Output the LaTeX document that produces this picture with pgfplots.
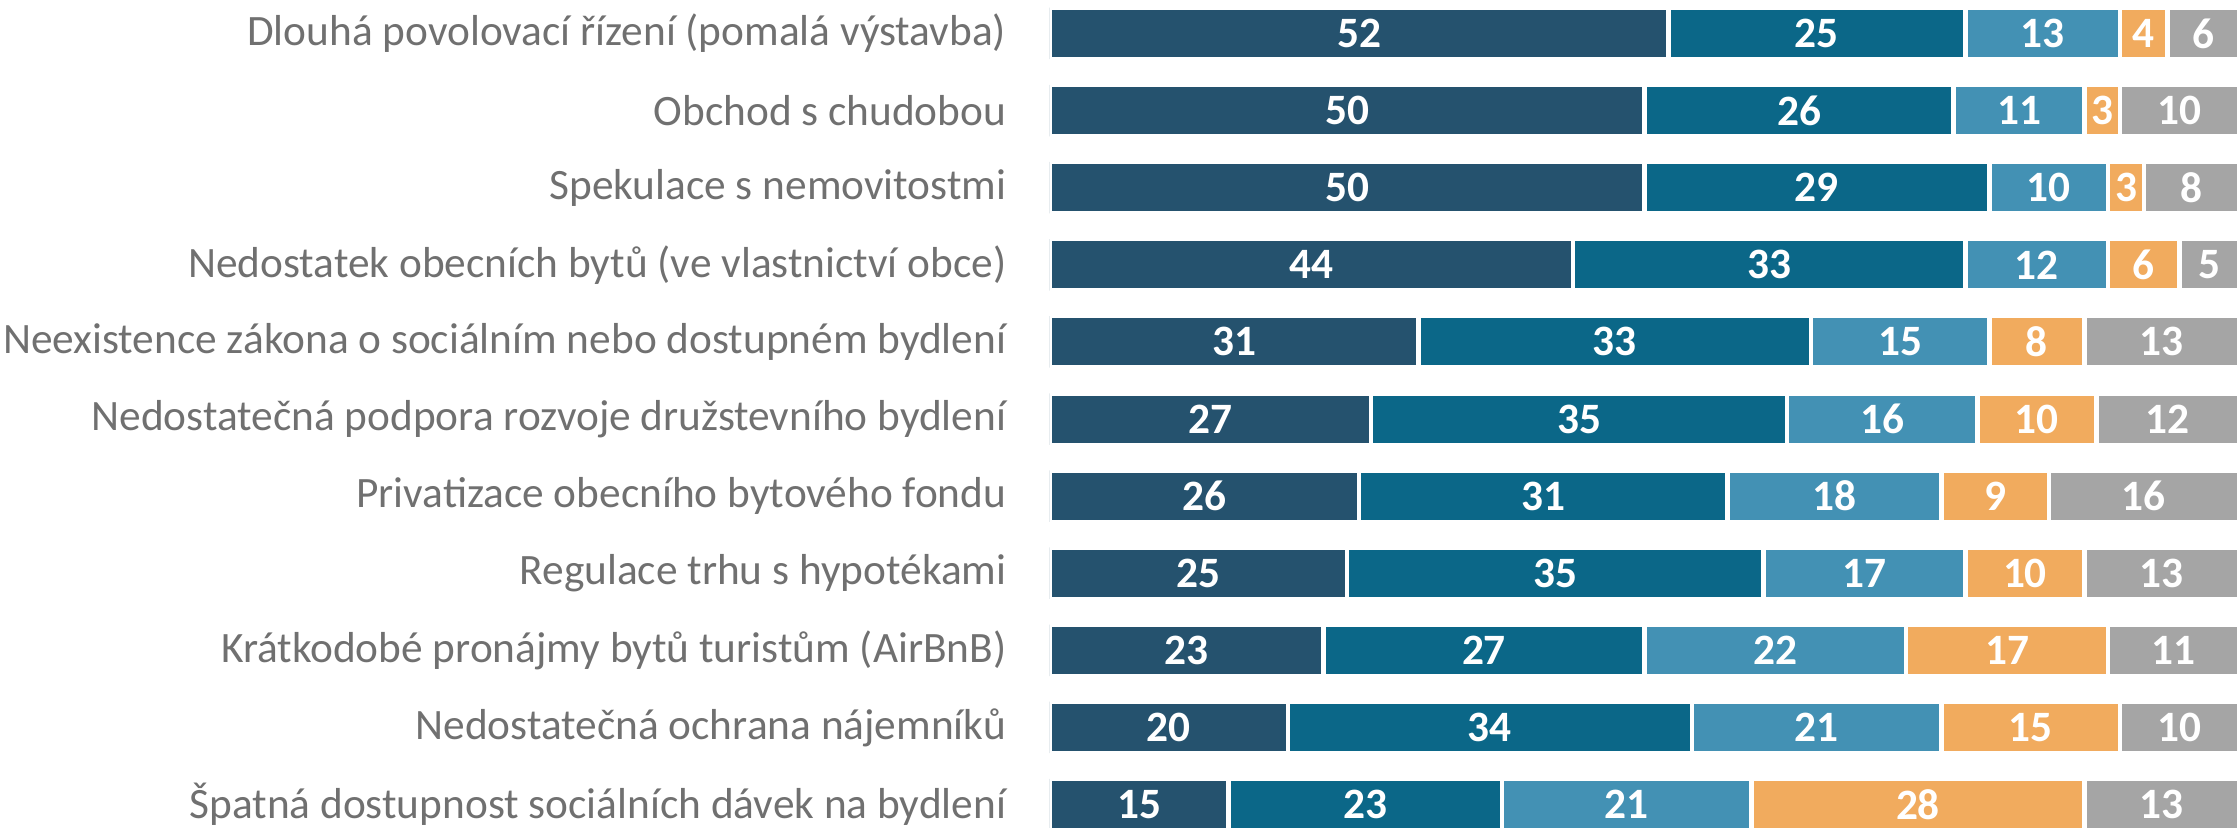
\documentclass[border=0pt]{standalone}
\usepackage{pgfplots}
\pgfplotsset{compat=1.18}
\usepackage{pgfplotstable}
\usepackage{fontspec}
\setmainfont{Carlito}
\definecolor{c1}{HTML}{25526E}
\definecolor{c2}{HTML}{0B6788}
\definecolor{c3}{HTML}{4391B4}
\definecolor{c4}{HTML}{F1AB5E}
\definecolor{c5}{HTML}{A5A5A5}
\definecolor{lab}{HTML}{707070}
\pgfplotstableread{
y a b c d e
0 52 25 13 4 6
1 50 26 11 3 10
2 50 29 10 3 8
3 44 33 12 6 5
4 31 33 15 8 13
5 27 35 16 10 12
6 26 31 18 9 16
7 25 35 17 10 13
8 23 27 22 17 11
9 20 34 21 15 10
10 15 23 21 28 13
}\data
\pgfplotsset{
  base/.style={
    scale only axis, width=356.7pt, height=248.4pt,
    xmin=0, xmax=100, ymin=-0.434, ymax=10.304, y dir=reverse,
    axis line style={draw=none}, major tick length=0pt,
    xtick=\empty,
  },
  lbl/.style={draw=none, mark=none, nodes near coords, point meta=explicit symbolic,
    every node near coord/.append style={anchor=center, inner sep=0pt, text=white, font=\bfseries\fontsize{13pt}{14pt}\selectfont}},
}
\begin{document}
\begin{tikzpicture}
\begin{axis}[base, name=ax,
  xbar stacked, bar width=15.45pt,
  ytick={0,...,10},
  yticklabels={
    Dlouhá povolovací řízení (pomalá výstavba),
    Obchod s chudobou,
    Spekulace s nemovitostmi,
    Nedostatek obecních bytů (ve vlastnictví obce),
    Neexistence zákona o sociálním nebo dostupném bydlení,
    Nedostatečná podpora rozvoje družstevního bydlení,
    Privatizace obecního bytového fondu,
    Regulace trhu s hypotékami,
    Krátkodobé pronájmy bytů turistům (AirBnB),
    Nedostatečná ochrana nájemníků,
    Špatná dostupnost sociálních dávek na bydlení},
  yticklabel style={anchor=east, inner sep=0pt, xshift=-12.9pt, font=\fontsize{13pt}{14pt}\selectfont, text=lab},
]
\addplot[fill=c1, draw=white, line width=1.35pt] table[x=a, y=y] {\data};
\addplot[fill=c2, draw=white, line width=1.35pt] table[x=b, y=y] {\data};
\addplot[fill=c3, draw=white, line width=1.35pt] table[x=c, y=y] {\data};
\addplot[fill=c4, draw=white, line width=1.35pt] table[x=d, y=y] {\data};
\addplot[fill=c5, draw=white, line width=1.35pt] table[x=e, y=y] {\data};
\end{axis}
\begin{axis}[base, ytick=\empty]
\addplot[lbl] table[x expr=\thisrow{a}/2, y=y, meta=a] {\data};
\addplot[lbl] table[x expr=\thisrow{a}+\thisrow{b}/2, y=y, meta=b] {\data};
\addplot[lbl] table[x expr=\thisrow{a}+\thisrow{b}+\thisrow{c}/2, y=y, meta=c] {\data};
\addplot[lbl] table[x expr=\thisrow{a}+\thisrow{b}+\thisrow{c}+\thisrow{d}/2, y=y, meta=d] {\data};
\addplot[lbl] table[x expr=\thisrow{a}+\thisrow{b}+\thisrow{c}+\thisrow{d}+\thisrow{e}/2, y=y, meta=e] {\data};
\end{axis}
\pgfresetboundingbox
\path ([xshift=-315pt]ax.south west) rectangle (ax.north east);
\end{tikzpicture}
\end{document}
